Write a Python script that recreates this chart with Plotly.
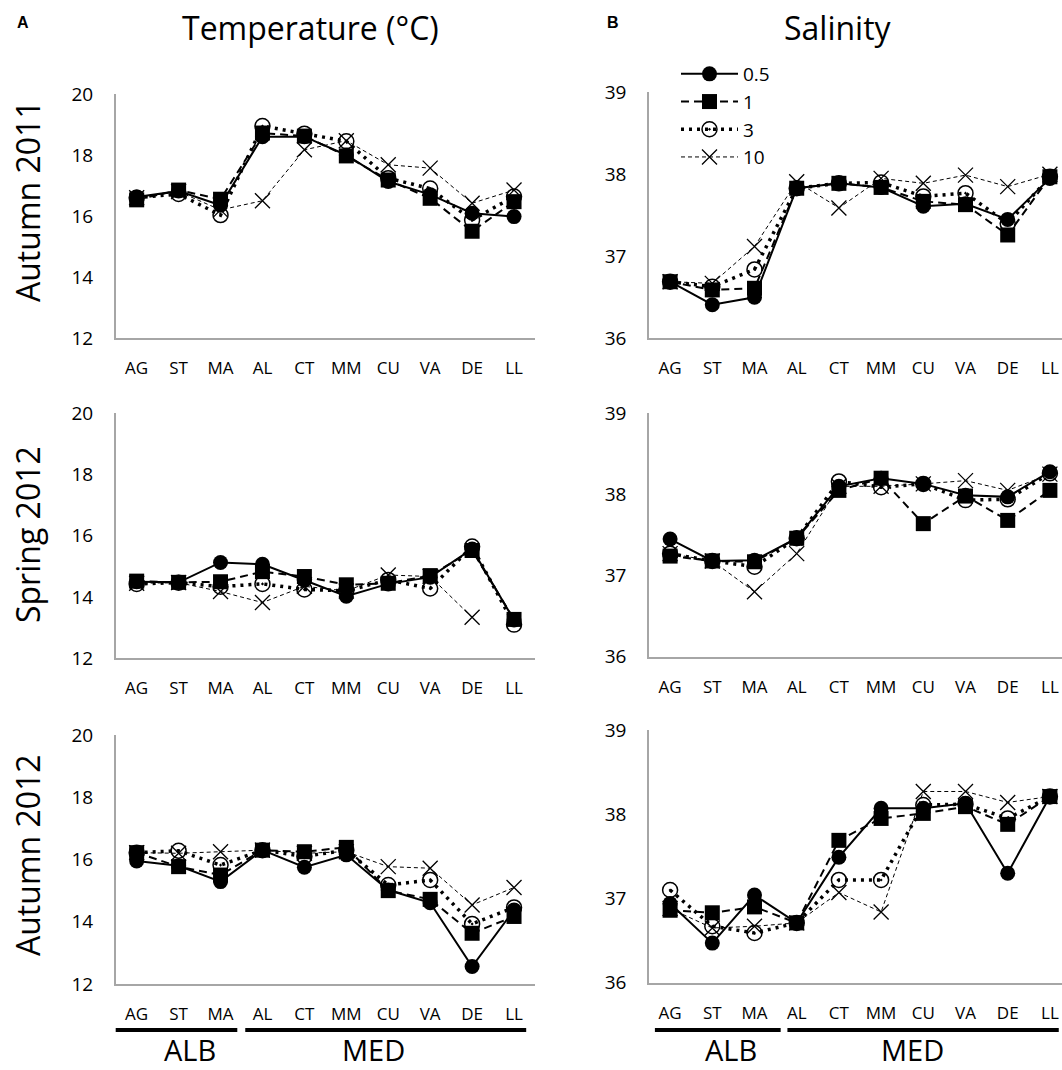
import plotly.graph_objects as go

sites = ["AG", "ST", "MA", "AL", "CT", "MM", "CU", "VA", "DE", "LL"]
depths = ["0.5", "1", "3", "10"]

# Temperature, Autumn 2011
t_a11_05 = [16.62, 16.82, 16.35, 18.60, 18.60, 18.00, 17.13, 16.70, 16.09, 15.98]
t_a11_1 = [16.53, 16.85, 16.55, 18.72, 18.62, 17.97, 17.18, 16.58, 15.50, 16.47]
t_a11_3 = [16.60, 16.72, 16.03, 18.95, 18.70, 18.45, 17.24, 16.90, 15.87, 16.64]
t_a11_10 = [16.60, 16.80, 16.20, 16.50, 18.17, 18.47, 17.68, 17.57, 16.42, 16.85]

# Salinity, Autumn 2011
s_a11_05 = [36.69, 36.41, 36.50, 37.83, 37.89, 37.84, 37.61, 37.64, 37.45, 37.95]
s_a11_1 = [36.69, 36.59, 36.61, 37.83, 37.89, 37.84, 37.67, 37.63, 37.26, 37.97]
s_a11_3 = [36.69, 36.63, 36.84, 37.83, 37.89, 37.90, 37.73, 37.77, 37.40, 37.97]
s_a11_10 = [36.69, 36.67, 37.12, 37.91, 37.59, 37.95, 37.89, 37.99, 37.85, 38.00]

# Temperature, Spring 2012
t_s12_05 = [14.50, 14.48, 15.13, 15.07, 14.55, 14.03, 14.43, 14.65, 15.57, 13.25]
t_s12_1 = [14.52, 14.48, 14.50, 14.83, 14.67, 14.40, 14.45, 14.70, 15.52, 13.27]
t_s12_3 = [14.43, 14.47, 14.34, 14.43, 14.25, 14.20, 14.56, 14.28, 15.65, 13.10]
t_s12_10 = [14.45, 14.47, 14.18, 13.82, 14.35, 14.20, 14.72, 14.67, 13.34, None]

# Salinity, Spring 2012
s_s12_05 = [37.45, 37.18, 37.19, 37.46, 38.10, 38.20, 38.13, 37.99, 37.97, 38.28]
s_s12_1 = [37.24, 37.18, 37.17, 37.46, 38.05, 38.20, 37.64, 37.98, 37.68, 38.05]
s_s12_3 = [37.27, 37.18, 37.11, 37.46, 38.16, 38.09, 38.13, 37.93, 37.94, 38.26]
s_s12_10 = [37.27, 37.18, 36.80, 37.27, 38.10, 38.10, 38.13, 38.17, 38.05, 38.25]

# Temperature, Autumn 2012
t_a12_05 = [15.95, 15.80, 15.29, 16.30, 15.75, 16.15, 15.02, 14.61, 12.56, 14.38]
t_a12_1 = [16.22, 15.77, 15.50, 16.30, 16.25, 16.39, 15.00, 14.72, 13.63, 14.17]
t_a12_3 = [16.22, 16.28, 15.82, 16.30, 16.10, 16.30, 15.18, 15.34, 13.93, 14.46]
t_a12_10 = [16.22, 16.20, 16.25, 16.30, 16.20, 16.25, 15.77, 15.72, 14.54, 15.10]

# Salinity, Autumn 2012
s_a12_05 = [36.94, 36.47, 37.04, 36.71, 37.49, 38.07, 38.07, 38.13, 37.30, 38.21]
s_a12_1 = [36.86, 36.83, 36.90, 36.71, 37.69, 37.95, 38.01, 38.09, 37.88, 38.21]
s_a12_3 = [37.10, 36.67, 36.59, 36.71, 37.22, 37.22, 38.11, 38.12, 37.95, 38.21]
s_a12_10 = [36.88, 36.65, 36.67, 36.71, 37.07, 36.84, 38.27, 38.27, 38.14, 38.21]

row_labels = ["Autumn 2011", "Spring 2012", "Autumn 2012"]
col_titles = ["Temperature (°C)", "Salinity"]
groups = ["ALB", "MED"]
temp_ticks = [12, 14, 16, 18, 20]
sal_ticks = [36, 37, 38, 39]

panels = [
    [t_a11_05, t_a11_1, t_a11_3, t_a11_10],
    [s_a11_05, s_a11_1, s_a11_3, s_a11_10],
    [t_s12_05, t_s12_1, t_s12_3, t_s12_10],
    [s_s12_05, s_s12_1, s_s12_3, s_s12_10],
    [t_a12_05, t_a12_1, t_a12_3, t_a12_10],
    [s_a12_05, s_a12_1, s_a12_3, s_a12_10],
]

W, H = 1062, 1070
TXT = "Open Sans"
TICKF = "Open Sans, sans-serif"

styles = [
    dict(line=dict(color="black", width=2, dash="solid"),
         marker=dict(symbol="circle", size=15, color="black")),
    dict(line=dict(color="black", width=2, dash="8px,5px"),
         marker=dict(symbol="square", size=15, color="black")),
    dict(line=dict(color="black", width=3.5, dash="3px,5px"),
         marker=dict(symbol="circle-open-dot", size=15, color="black",
                     line=dict(width=1.5, color="black"))),
    dict(line=dict(color="black", width=1, dash="4px,3px"),
         marker=dict(symbol="x-thin-open", size=15, color="black",
                     line=dict(width=1.3, color="black"))),
]

def fx(px):
    return px / W

def fy(py):
    return 1 - py / H

xdom = {"L": [fx(115.7), fx(535)], "R": [fx(649), 1.0]}
ydom = {
    (0, "L"): [fy(338), fy(94)], (0, "R"): [fy(338.3), fy(92.3)],
    (1, "L"): [fy(658.3), fy(413.3)], (1, "R"): [fy(656.7), fy(413.3)],
    (2, "L"): [fy(984), fy(735)], (2, "R"): [fy(982.7), fy(730)],
}
# right panels: 42.2 px per category, axis runs to window edge
r_span = (1062 - 649) / 42.2

fig = go.Figure()
layout = {}
for p, series in enumerate(panels):
    row, col = divmod(p, 2)
    side = "L" if col == 0 else "R"
    n = p + 1
    xa = "x" if n == 1 else f"x{n}"
    ya = "y" if n == 1 else f"y{n}"
    for k, vals in enumerate(series):
        st = styles[k]
        fig.add_trace(go.Scatter(
            x=sites, y=vals, mode="lines+markers", name=depths[k],
            line=st["line"], marker=st["marker"], xaxis=xa, yaxis=ya,
            showlegend=(p == 1), legendgroup=depths[k], connectgaps=False,
            cliponaxis=False,
        ))
    xr = [-0.5, 9.5] if side == "L" else [-0.5, -0.5 + r_span]
    layout["xaxis" if n == 1 else f"xaxis{n}"] = dict(
        domain=xdom[side], anchor=ya, range=xr, type="category",
        categoryorder="array", categoryarray=sites, automargin=False,
        showline=True, linecolor="#a6a6a6", linewidth=1.5, showgrid=False,
        zeroline=False, ticks="", ticklabelstandoff=14,
        tickfont=dict(family=TICKF, size=17, color="black"),
    )
    if side == "L":
        yr, tv = [12, 20], temp_ticks
    else:
        yr, tv = [36, 39], sal_ticks
    layout["yaxis" if n == 1 else f"yaxis{n}"] = dict(
        domain=ydom[(row, side)], anchor=xa, range=yr, tickvals=tv, automargin=False,
        showline=True, linecolor="#a6a6a6", linewidth=1.5, showgrid=False,
        zeroline=False, ticks="", ticklabelstandoff=17,
        tickfont=dict(family=TICKF, size=19, color="black"),
    )

fig.update_layout(**layout)

def ann(text, x, y, size, family=TXT, angle=0):
    return dict(text=text, x=fx(x), y=fy(y), xref="paper", yref="paper",
                xanchor="center", yanchor="middle", textangle=angle, showarrow=False,
                font=dict(family=family, size=size, color="black"))

annotations = [
    ann("<b>A</b>", 23, 22, 16, "Liberation Sans"),
    ann("<b>B</b>", 613, 22, 16, "Liberation Sans"),
    ann(col_titles[0], 310, 28, 32),
    ann(col_titles[1], 838, 28, 32),
]
for lab, yc in zip(row_labels, [201, 535, 855]):
    annotations.append(ann(lab, 27, yc, 32, angle=-90))
for g, xc in [(groups[0], 190), (groups[1], 373), (groups[0], 731), (groups[1], 912)]:
    annotations.append(ann(g, xc, 1049, 29))
fig.update_layout(annotations=annotations)

shapes = []
for xr_, segs in [("x5", [(-0.57, 2.40), (2.59, 9.29)]), ("x6", [(-0.36, 2.62), (2.78, 9.21)])]:
    for a, b in segs:
        shapes.append(dict(type="line", xref=xr_, yref="paper", x0=a, x1=b,
                           y0=fy(1030), y1=fy(1030),
                           line=dict(color="black", width=4)))
fig.update_layout(shapes=shapes)

fig.update_layout(
    width=W, height=H, margin=dict(l=0, r=0, t=0, b=0, autoexpand=False),
    paper_bgcolor="white", plot_bgcolor="white",
    showlegend=True,
    legend=dict(x=fx(676), y=fy(55), xanchor="left", yanchor="top",
                bgcolor="rgba(0,0,0,0)", font=dict(family=TXT, size=19, color="black"),
                traceorder="grouped", tracegroupgap=0, itemwidth=57),
)

fig.write_html("out.html", config={"displayModeBar": False},
               post_script="document.body.style.margin='0';document.body.style.overflow='hidden';")
